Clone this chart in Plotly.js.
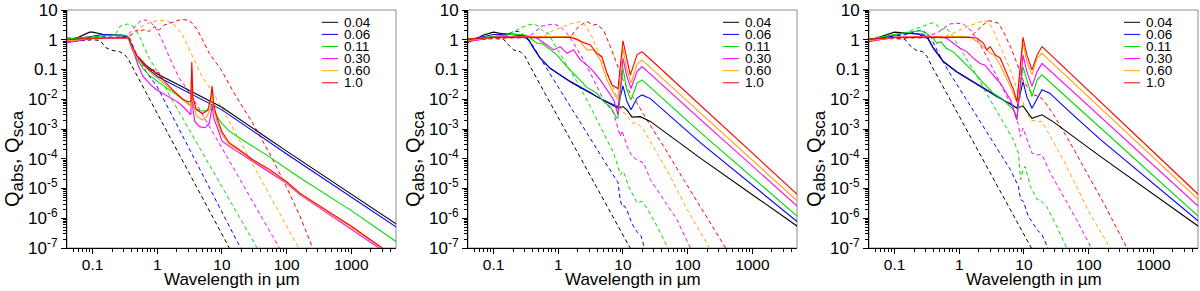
<!DOCTYPE html>
<html><head><meta charset="utf-8">
<script src="https://cdn.plot.ly/plotly-3.0.1.min.js"></script>
<style>html,body{margin:0;padding:0;background:#fff}#chart{width:1200px;height:291px}</style>
</head><body><div id="chart"></div>
<script>
// ---------- labels ----------
const sizes = ['0.04','0.06','0.11','0.30','0.60','1.0'];
const xTickVals = [0.1, 1, 10, 100, 1000];
const xTickText = ['0.1','1','10','100','1000'];
const yTickVals = [1e-7,1e-6,1e-5,1e-4,1e-3,1e-2,0.1,1,10];
const yTickText = ['10<sup>-7</sup>','10<sup>-6</sup>','10<sup>-5</sup>','10<sup>-4</sup>','10<sup>-3</sup>','10<sup>-2</sup>','0.1','1','10'];
const xTitle = 'Wavelength in µm';
const yTitle = 'Q<sub><span style="font-size:17px">abs</span></sub>, Q<sub><span style="font-size:17px">sca</span></sub>';

// ---------- panel 1 : Q_abs (solid)  [wavelength µm, Q] ----------
const a1_004 = [[0.04,0.8],[0.07,1.45],[0.09,1.8],[0.1,1.8],[0.143,1.53],[0.29,1.34],[0.36,1.12],[0.416,0.455],[0.468,0.31],[0.668,0.14],[1,0.071],[3,0.021],[10,5.4e-3],[100,1.8e-4],[1000,6.4e-6],[5000,6.3e-7]];
const a1_006 = [[0.04,1.0],[0.07,1.15],[0.1,1.3],[0.143,1.5],[0.29,1.45],[0.36,1.2],[0.416,0.5],[0.468,0.3],[0.668,0.12],[1,0.058],[3,0.017],[10,4.4e-3],[100,1.45e-4],[1000,5e-6],[5000,5e-7]];
const a1_011 = [[0.04,1.05],[0.1,1.3],[0.2,1.45],[0.33,1.4],[0.37,1.15],[0.42,0.5],[0.47,0.25],[0.6,0.11],[0.75,0.065],[1,0.04],[1.5,0.022],[2,0.014],[2.8,0.0085],[3.2,0.0065],[3.42,0.0095],[3.65,0.0052],[4.5,0.0042],[5.5,0.004],[6.5,0.0045],[7.05,0.0065],[7.6,0.004],[8.5,0.0025],[10,1.5e-3],[13,8.5e-4],[20,4.5e-4],[50,1.3e-4],[100,4.5e-5],[160,2.3e-5],[1000,1.8e-6],[5000,1.6e-7]];
const a1_030 = [[0.04,0.8],[0.07,1.0],[0.1,1.1],[0.3,1.18],[0.36,1.12],[0.42,0.45],[0.5,0.15],[0.6,0.06],[0.8,0.03],[1,0.02],[1.5,0.0125],[2,0.0085],[2.5,0.0057],[2.9,0.004],[3.3,0.003],[3.42,0.035],[3.55,0.005],[3.8,0.0018],[4.5,0.0012],[5.5,0.0011],[6.4,0.0016],[7.05,0.006],[7.5,0.0022],[8.5,0.0011],[10,4e-4],[13,2.6e-4],[17,1.8e-4],[30,8e-5],[55,3.6e-5],[100,1.5e-5],[160,6.2e-6],[1000,4.4e-7],[3000,8.5e-8],[5000,4e-8]];
const a1_060 = [[0.04,0.9],[0.1,1.15],[0.3,1.2],[0.36,1.12],[0.42,0.48],[0.48,0.26],[0.6,0.14],[0.75,0.085],[0.9,0.06],[1.1,0.045],[1.5,0.025],[2,0.016],[2.5,0.0095],[3,0.0068],[3.3,0.006],[3.42,0.12],[3.55,0.0085],[4,0.0028],[5,0.002],[6,0.0028],[6.6,0.0055],[7.05,0.022],[7.5,0.0042],[8.5,0.0016],[10,6.5e-4],[13,3e-4],[17,2.1e-4],[30,8.8e-5],[55,4e-5],[100,1.6e-5],[160,6.6e-6],[1000,5e-7],[3000,9.5e-8],[5000,4.5e-8]];
const a1_100 = [[0.04,1.0],[0.1,1.12],[0.3,1.18],[0.36,1.12],[0.42,0.55],[0.48,0.3],[0.6,0.18],[0.7,0.12],[0.8,0.09],[0.87,0.1],[0.95,0.075],[1.05,0.08],[1.15,0.055],[1.3,0.04],[1.55,0.026],[2,0.015],[2.5,0.0098],[3,0.0083],[3.3,0.0085],[3.42,0.18],[3.55,0.012],[4,0.0045],[5,0.0033],[6,0.0042],[6.6,0.009],[7.05,0.028],[7.5,0.006],[8.5,0.0022],[10,8e-4],[13,3.4e-4],[17,2.3e-4],[30,9.3e-5],[55,4.3e-5],[100,1.7e-5],[160,7e-6],[1000,5.4e-7],[3000,1e-7],[5000,4.7e-8]];
// ---------- panel 1 : Q_sca (dashed) ----------
const s1_004 = [[0.04,0.85],[0.07,0.95],[0.1,1.0],[0.13,0.95],[0.16,0.55],[0.19,0.45],[0.26,0.4],[0.31,0.32],[0.35,0.24],[0.4,0.14],[0.48,0.066],[13,1e-7],[20,1.8e-8]];
const s1_006 = [[0.04,1.05],[0.1,1.2],[0.2,1.35],[0.33,1.35],[0.38,1.1],[0.43,0.55],[0.47,0.35],[0.67,0.085],[1,0.026],[19.4,1e-7],[30,1.7e-8]];
const s1_011 = [[0.04,1.0],[0.14,1.3],[0.23,1.65],[0.27,2.9],[0.35,3.4],[0.42,2.9],[0.47,2.1],[0.56,1.0],[0.75,0.24],[1,0.085],[1.53,0.014],[35.6,1e-7],[50,2.6e-8]];
const s1_030 = [[0.04,1.0],[0.1,1.1],[0.3,1.2],[0.37,1.6],[0.47,3.1],[0.56,4.4],[0.67,4.6],[0.8,3.8],[1,2.1],[1.25,0.75],[1.55,0.25],[2.2,0.05],[3.2,0.016],[10,2.3e-4],[30,3.6e-6],[77,1e-7],[110,2.6e-8]];
const s1_060 = [[0.04,1.1],[0.3,1.2],[0.37,1.35],[0.42,1.6],[0.47,1.9],[0.56,2.8],[0.71,3.4],[0.85,4.1],[1.07,4.4],[1.4,4.4],[1.6,3.8],[1.94,2.8],[2.46,1.45],[3.13,0.45],[4,0.15],[5,0.055],[7.2,0.017],[10,5e-3],[20,3.2e-4],[40,2e-5],[80,1.3e-6],[155,1e-7],[200,3.5e-8]];
const s1_100 = [[0.04,1.15],[0.3,1.2],[0.36,1.3],[0.4,1.45],[0.47,2.1],[0.53,1.9],[0.63,2.2],[0.75,1.9],[0.9,2.8],[1.07,2.1],[1.27,3.1],[1.53,3.6],[1.8,4.1],[2.19,4.6],[2.62,4.8],[3.13,4.4],[3.7,3.1],[4.2,2.1],[5,1.0],[6.37,0.35],[9.66,0.1],[16.5,0.0124],[29.8,1.6e-3],[54,1.55e-4],[98,1.2e-5],[160,1.2e-6],[253,1e-7],[330,2e-8]];

// ---------- panel 2 : Q_abs ----------
const a2_004 = [[0.04,0.8],[0.07,1.45],[0.1,1.8],[0.143,1.57],[0.29,1.38],[0.35,1.0],[0.416,0.52],[0.527,0.24],[0.75,0.11],[1.07,0.066],[1.53,0.039],[2.19,0.025],[3.13,0.016],[4.46,0.0109],[6.37,0.007],[8.37,0.005],[10,0.0057],[11.5,0.0044],[13.8,0.0025],[16.5,0.0025],[18.5,0.0026],[26.5,0.0018],[42.6,8.3e-4],[68.4,3.8e-4],[157,1.05e-4],[1000,6.2e-6],[5000,5.3e-7]];
const a2_006 = [[0.04,1.0],[0.1,1.5],[0.2,1.55],[0.29,1.38],[0.35,1.0],[0.416,0.52],[0.527,0.24],[0.75,0.11],[1.07,0.066],[1.53,0.04],[2.19,0.026],[3.13,0.017],[3.96,0.012],[6.37,0.0076],[8.37,0.0056],[10,0.028],[11.5,0.0085],[13.3,0.0044],[16.5,0.011],[19.7,0.014],[26.5,0.0105],[157,3.5e-4],[1000,1.3e-5],[5000,7.5e-7]];
const a2_011 = [[0.04,1.04],[0.1,1.27],[0.2,1.53],[0.29,1.49],[0.37,1.12],[0.47,0.76],[0.56,0.76],[0.71,0.52],[0.95,0.31],[1.36,0.125],[1.94,0.058],[2.78,0.025],[3.96,0.016],[5,0.0084],[6.37,0.0057],[8.08,0.0023],[8.37,0.0023],[10,0.11],[11.5,0.02],[13.3,0.0095],[16.5,0.035],[19.7,0.045],[26,0.026],[157,7.7e-4],[5000,1.15e-6]];
const a2_030 = [[0.04,0.86],[0.1,1.21],[0.348,1.34],[0.47,1.12],[0.668,0.67],[0.847,0.455],[1.07,0.59],[1.36,0.35],[1.73,0.455],[2.19,0.21],[2.78,0.14],[3.52,0.085],[4.46,0.045],[5.66,0.02],[7.18,0.0096],[8.37,0.003],[10,0.24],[11.5,0.058],[13.3,0.023],[16.5,0.085],[19.7,0.125],[26,0.073],[157,2.1e-3],[5000,2.5e-6]];
const a2_060 = [[0.04,0.94],[0.1,1.2],[1.53,1.27],[2.19,0.86],[2.78,0.455],[3.52,0.455],[4.46,0.21],[5.66,0.045],[7.18,0.016],[8.37,0.0096],[10,0.52],[11.5,0.1],[13.3,0.035],[16.5,0.15],[19.7,0.21],[26,0.121],[157,3.5e-3],[5000,3.7e-6]];
const a2_100 = [[0.04,1.04],[0.1,1.2],[1.53,1.21],[1.94,1.05],[2.46,0.8],[3.13,0.67],[3.96,0.35],[4.73,0.27],[5.66,0.075],[6.76,0.03],[8.08,0.024],[8.37,0.022],[10,0.93],[11.5,0.21],[13,0.065],[16.5,0.31],[19.7,0.4],[26,0.23],[157,6.3e-3],[5000,6.2e-6]];
// ---------- panel 2 : Q_sca ----------
const s2_004 = [[0.04,0.94],[0.1,1.1],[0.143,1.04],[0.161,0.76],[0.204,0.455],[0.258,0.4],[0.309,0.27],[0.369,0.125],[12.9,1e-7],[20,1.7e-8]];
const s2_006 = [[0.04,1.04],[0.1,1.2],[0.143,1.3],[0.204,1.9],[0.244,1.9],[0.291,1.45],[0.416,0.59],[0.527,0.24],[0.847,0.045],[1.53,0.0057],[2.78,7.3e-4],[5.02,9.2e-5],[8.37,1.6e-5],[9.1,4e-6],[9.7,2.5e-6],[10.5,2.6e-6],[11.5,1.9e-6],[13.8,6.5e-7],[16.5,3.5e-7],[19,2.6e-7],[21.5,1e-7],[30,2e-8]];
const s2_011 = [[0.04,1.04],[0.143,1.34],[0.23,2.1],[0.33,3.1],[0.42,3.4],[0.5,2.8],[0.59,1.9],[0.71,1.65],[0.85,0.76],[1.21,0.21],[1.94,0.039],[3.13,5.7e-3],[5.02,7.3e-4],[7.18,1.55e-4],[8.37,5.5e-5],[9.1,2.9e-5],[10,3.8e-5],[10.9,2.55e-5],[12.2,1.18e-5],[16.5,3.3e-6],[19.7,3.7e-6],[23.5,2.2e-6],[33.6,5.4e-7],[49,1e-7],[70,2.2e-8]];
const s2_030 = [[0.04,1.04],[0.1,1.1],[0.348,1.34],[0.42,1.65],[0.527,2.8],[0.668,3.1],[0.847,3.4],[1.07,2.8],[1.36,1.65],[1.73,0.76],[2.46,0.21],[3.52,0.045],[5.02,9.6e-3],[7.18,3.4e-3],[8.08,1.4e-3],[8.37,1.07e-3],[9.1,5.6e-4],[9.66,8.8e-4],[11.5,2.7e-4],[13.8,1.2e-4],[16.5,9.2e-5],[20.9,7.2e-5],[26.5,2e-5],[42.6,4.2e-6],[68.4,9e-7],[110,1e-7],[150,2.5e-8]];
const s2_060 = [[0.04,1.1],[0.3,1.2],[0.6,1.3],[0.85,2.1],[1.21,2.8],[1.53,3.4],[1.94,3.8],[2.19,4.1],[2.62,3.1],[3.32,1.27],[4.46,0.27],[6.37,0.045],[8.37,9.6e-3],[9.66,3.9e-3],[11.5,3e-3],[13.8,1.6e-3],[16.5,1.6e-3],[20.9,9.4e-4],[33.6,1.55e-4],[54,2.55e-5],[97.7,2e-6],[224,1e-7],[300,3e-8]];
const s2_100 = [[0.04,1.1],[0.3,1.15],[1.53,1.2],[1.94,2.4],[2.46,3.6],[2.78,4.1],[3.13,3.6],[3.52,3.1],[3.96,3.3],[5.02,2.1],[6.37,0.59],[8.37,0.125],[10,0.045],[13,0.016],[16.5,7.4e-3],[23.5,2e-3],[42.6,2.6e-4],[86.7,2e-5],[157,2.5e-6],[382,1e-7],[500,4e-8]];

// ---------- panel 3 : Q_abs ----------
const a3_004 = [[0.04,0.94],[0.1,1.8],[0.23,1.57],[0.33,1.12],[0.4,0.52],[0.57,0.185],[0.92,0.085],[1.48,0.045],[2.37,0.024],[3.83,0.0124],[6.17,0.0065],[7.8,0.005],[9.66,0.006],[11.1,0.0039],[13.3,0.0023],[19,0.003],[28.8,1.7e-3],[151,1.2e-4],[1000,6.4e-6],[5000,5.3e-7]];
const a3_006 = [[0.04,0.94],[0.14,1.65],[0.28,1.53],[0.33,1.04],[0.4,0.5],[0.57,0.18],[0.92,0.08],[1.48,0.043],[2.37,0.023],[3.83,0.012],[6.17,0.007],[7.8,0.005],[9.66,0.039],[11.1,0.012],[13.3,0.005],[16,0.011],[19,0.021],[25,0.016],[52,3.6e-3],[151,4.5e-4],[5000,7.9e-7]];
const a3_011 = [[0.04,1.04],[0.14,1.7],[0.25,2.0],[0.31,1.65],[0.4,1.12],[0.45,0.76],[0.52,0.86],[0.63,0.52],[0.8,0.4],[1.15,0.185],[1.65,0.085],[2.37,0.035],[3.35,0.016],[4.8,0.0096],[6.9,0.0044],[7.8,0.0026],[9.66,0.125],[11.1,0.045],[13.3,0.0124],[16,0.045],[19,0.066],[25,0.038],[5000,1.15e-6]];
const a3_030 = [[0.04,0.86],[0.1,1.21],[0.3,1.27],[0.45,1.27],[0.64,1.12],[0.8,0.76],[1.03,0.52],[1.3,0.4],[1.65,0.24],[2.1,0.16],[2.5,0.14],[3.0,0.085],[4.3,0.035],[6.17,0.0096],[7.8,0.002],[9.66,0.31],[11.1,0.085],[13.3,0.027],[16,0.085],[19,0.16],[25,0.093],[5000,2.5e-6]];
const a3_060 = [[0.04,0.94],[0.1,1.2],[1.15,1.27],[1.48,1.21],[1.9,0.86],[2.37,0.59],[3.0,0.35],[3.5,0.3],[4.3,0.14],[6.17,0.027],[7.8,0.0074],[9.66,0.78],[11.1,0.185],[13.3,0.066],[16,0.24],[19,0.35],[25,0.2],[5000,4.2e-6]];
const a3_100 = [[0.04,1.04],[0.1,1.2],[1.48,1.21],[1.9,1.12],[2.37,0.76],[2.67,0.455],[3.0,0.59],[3.6,0.31],[4.3,0.24],[5.45,0.075],[6.9,0.021],[7.8,0.0084],[9.66,1.21],[11.1,0.31],[13.3,0.097],[16,0.31],[19,0.59],[25,0.336],[5000,6.2e-6]];
// ---------- panel 3 : Q_sca ----------
const s3_004 = [[0.04,1.04],[0.1,1.1],[0.145,1.04],[0.17,0.67],[0.21,0.455],[0.27,0.4],[0.32,0.27],[0.38,0.125],[13,1e-7],[20,1.8e-8]];
const s3_006 = [[0.04,1.04],[0.14,1.45],[0.25,2.1],[0.29,1.9],[0.37,1.12],[0.45,0.455],[0.64,0.11],[1.03,0.021],[1.9,2.6e-3],[3.35,3.4e-4],[6.17,4.3e-5],[8.2,1.18e-5],[8.9,4.2e-6],[9.8,3.7e-6],[11.6,1.2e-6],[16,4.1e-7],[19,2.8e-7],[23.4,1e-7],[30,2.5e-8]];
const s3_011 = [[0.04,1.04],[0.14,1.65],[0.22,2.4],[0.33,3.4],[0.4,3.8],[0.45,3.1],[0.52,2.2],[0.64,2.4],[0.8,1.27],[1.15,0.35],[1.9,0.058],[3.0,9.6e-3],[4.8,1.57e-3],[6.9,4.3e-4],[8.2,1.55e-4],[8.9,2e-5],[9.66,4.3e-5],[10.4,5.5e-5],[12.6,1.18e-5],[16,4.2e-6],[17.8,4.2e-6],[22.4,2.5e-6],[32,5.4e-7],[45.6,1e-7],[60,2.8e-8]];
const s3_030 = [[0.04,1.04],[0.1,1.1],[0.3,1.3],[0.45,1.65],[0.57,2.4],[0.72,3.4],[0.9,3.6],[1.15,3.4],[1.48,2.1],[1.9,1.0],[2.67,0.27],[3.83,0.058],[5.45,0.0124],[6.9,4.4e-3],[8.2,1.4e-3],[8.8,5.6e-4],[9.66,1.07e-3],[11.1,4.3e-4],[13.3,1.55e-4],[16,1.36e-4],[19,1.36e-4],[25.6,3.3e-5],[40.6,5.4e-6],[65,9e-7],[110,1e-7],[150,2.5e-8]];
const s3_060 = [[0.04,1.1],[0.3,1.2],[0.6,1.3],[0.8,1.65],[1.15,2.4],[1.48,3.1],[1.9,3.6],[2.37,4.4],[2.8,4.1],[3.35,2.1],[4.3,0.59],[6.17,0.097],[7.8,0.021],[9.4,9.6e-3],[10.6,4.4e-3],[12.6,2e-3],[16,1.8e-3],[19,1.8e-3],[25.6,5.6e-4],[40.6,9.2e-5],[65,1.18e-5],[103,1.5e-6],[215,1e-7],[300,2.5e-8]];
const s3_100 = [[0.04,1.1],[0.3,1.15],[1.48,1.2],[1.9,2.1],[2.37,3.1],[2.8,4.4],[3.35,4.1],[4.0,3.6],[4.8,1.9],[6.17,0.59],[7.8,0.16],[9.66,0.045],[11.9,0.021],[14.2,0.014],[16.9,0.0124],[20,0.0096],[28.8,3e-3],[52,3.4e-4],[94,3.3e-5],[170,3.3e-6],[390,1e-7],[500,3.5e-8]];

// ---------- styling ----------
const colors = ['#000000','#0000ff','#00dd00','#ff00ff','#ffa500','#ff0000'];
const panels = [
  {abs:[a1_004,a1_006,a1_011,a1_030,a1_060,a1_100], sca:[s1_004,s1_006,s1_011,s1_030,s1_060,s1_100]},
  {abs:[a2_004,a2_006,a2_011,a2_030,a2_060,a2_100], sca:[s2_004,s2_006,s2_011,s2_030,s2_060,s2_100]},
  {abs:[a3_004,a3_006,a3_011,a3_030,a3_060,a3_100], sca:[s3_004,s3_006,s3_011,s3_030,s3_060,s3_100]}
];
const W = 1200, H = 291;
const plotLeft = [67, 468, 869], plotW = 329, plotTop = 10, plotBot = 248;
const FONT = 'Liberation Sans, Arial, Helvetica, sans-serif';

const traces = [];
panels.forEach((p, k) => {
  const xa = k === 0 ? 'x' : 'x' + (k + 1);
  const ya = k === 0 ? 'y' : 'y' + (k + 1);
  p.sca.forEach((pts, i) => traces.push({
    x: pts.map(d => d[0]), y: pts.map(d => d[1]), xaxis: xa, yaxis: ya,
    type: 'scatter', mode: 'lines', showlegend: false, hoverinfo: 'skip',
    line: {color: colors[i], width: 1, dash: '4px,3px'}
  }));
  p.abs.forEach((pts, i) => traces.push({
    x: pts.map(d => d[0]), y: pts.map(d => d[1]), xaxis: xa, yaxis: ya,
    type: 'scatter', mode: 'lines', showlegend: false, hoverinfo: 'skip',
    line: {color: colors[i], width: 1.1}
  }));
});

function minorVals(lo, hi) {
  const v = [];
  for (let e = lo; e < hi; e++) for (let m = 2; m <= 9; m++) v.push(m * Math.pow(10, e));
  return v;
}
const xMinor = minorVals(-2, 4).filter(v => v > 0.04 && v < 4900);
const yMinor = minorVals(-7, 1);

const layout = {
  width: W, height: H, margin: {l: 0, r: 0, t: 0, b: 0},
  paper_bgcolor: '#fff', plot_bgcolor: '#fff',
  font: {family: FONT, color: '#000'},
  showlegend: false, shapes: [], annotations: []
};
const yDom = [1 - plotBot / H, 1 - plotTop / H];
plotLeft.forEach((L, k) => {
  const sx = k === 0 ? '' : String(k + 1);
  layout['xaxis' + sx] = {
    type: 'log', range: [-1.395, 3.69], domain: [L / W, (L + plotW) / W], anchor: 'y' + sx,
    tickmode: 'array', tickvals: xTickVals, ticktext: xTickText,
    ticks: 'outside', ticklen: 5, tickwidth: 1, tickcolor: '#000', ticklabelstandoff: -3,
    showline: true, linecolor: '#000', linewidth: 1, showgrid: false, zeroline: false,
    tickfont: {size: 15.5, family: FONT, color: '#000'},
    minor: {tickmode: 'array', tickvals: xMinor, ticks: 'outside', ticklen: 3, tickwidth: 1, tickcolor: '#000', showgrid: false},
    fixedrange: true
  };
  layout['yaxis' + sx] = {
    type: 'log', range: [-7, 1], domain: yDom, anchor: 'x' + sx,
    tickmode: 'array', tickvals: yTickVals, ticktext: yTickText,
    ticks: 'outside', ticklen: 5, tickwidth: 1, tickcolor: '#000',
    showline: true, linecolor: '#000', linewidth: 1, showgrid: false, zeroline: false,
    tickfont: {size: 17, family: FONT, color: '#000'},
    minor: {tickmode: 'array', tickvals: yMinor, ticks: 'outside', ticklen: 3, tickwidth: 1, tickcolor: '#000', showgrid: false},
    fixedrange: true
  };
  const xr = 'x' + sx + ' domain', yr = 'y' + sx + ' domain';
  // grey frame (top & right)
  layout.shapes.push({type: 'rect', xref: xr, yref: yr, x0: 0, x1: 1, y0: 0, y1: 1,
    line: {color: '#8c8c8c', width: 1}, layer: 'below'});
  // legend
  sizes.forEach((s, i) => {
    const yy = 1 - (22.3 + 12.1 * i - plotTop) / (plotBot - plotTop);
    layout.shapes.push({type: 'line', xref: xr, yref: yr, x0: 255 / plotW, x1: 271 / plotW, y0: yy, y1: yy,
      line: {color: colors[i], width: 1}});
    layout.annotations.push({xref: xr, yref: yr, x: 275 / plotW, y: yy, xanchor: 'left', yanchor: 'middle',
      text: s, showarrow: false, font: {size: 13.5, family: FONT, color: '#000'}});
  });
  // axis titles
  layout.annotations.push({xref: xr, yref: 'paper', x: 0.5, y: 1 - 279 / H, xanchor: 'center', yanchor: 'middle',
    text: xTitle, showarrow: false, font: {size: 17, family: FONT, color: '#000'}});
  layout.annotations.push({xref: xr, yref: 'paper', x: 0, xshift: -53, y: 1 - 159 / H, xanchor: 'center', yanchor: 'middle',
    text: yTitle, textangle: -90, showarrow: false, font: {size: 20, family: FONT, color: '#000'}});
});

Plotly.newPlot('chart', traces, layout, {staticPlot: true, displayModeBar: false});
</script></body></html>
